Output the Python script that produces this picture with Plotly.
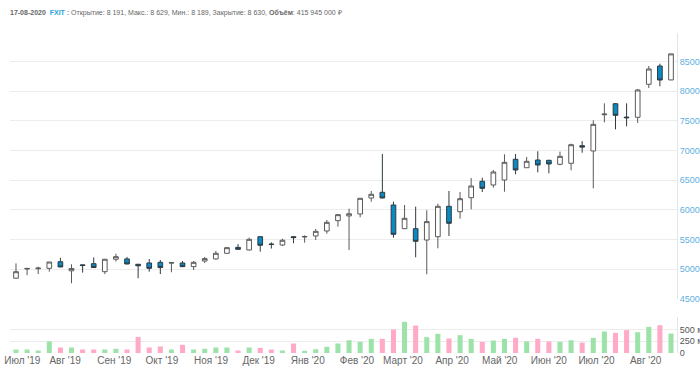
import plotly.graph_objects as go

dates = [
    "2019-07-01", "2019-07-08", "2019-07-15", "2019-07-22", "2019-07-29",
    "2019-08-05", "2019-08-12", "2019-08-19", "2019-08-26", "2019-09-02",
    "2019-09-09", "2019-09-16", "2019-09-23", "2019-09-30", "2019-10-07",
    "2019-10-14", "2019-10-21", "2019-10-28", "2019-11-04", "2019-11-11",
    "2019-11-18", "2019-11-25", "2019-12-02", "2019-12-09", "2019-12-16",
    "2019-12-23", "2019-12-30", "2020-01-06", "2020-01-13", "2020-01-20",
    "2020-01-27", "2020-02-03", "2020-02-10", "2020-02-17", "2020-02-24",
    "2020-03-02", "2020-03-09", "2020-03-16", "2020-03-23", "2020-03-30",
    "2020-04-06", "2020-04-13", "2020-04-20", "2020-04-27", "2020-05-04",
    "2020-05-11", "2020-05-18", "2020-05-25", "2020-06-01", "2020-06-08",
    "2020-06-15", "2020-06-22", "2020-06-29", "2020-07-06", "2020-07-13",
    "2020-07-20", "2020-07-27", "2020-08-03", "2020-08-10", "2020-08-17",
]

open_ = [4850, 5005, 5010, 5017, 5128, 4975, 5075, 5095, 4960, 5170,
         5175, 5085, 5107, 5118, 5105, 5107, 5045, 5140, 5175, 5270,
         5370, 5326, 5550, 5425, 5410, 5550, 5545, 5562, 5646, 5820,
         5900, 5932, 6202, 6298, 6084, 5685, 5685, 5494, 5550, 6062,
         5971, 6207, 6483, 6421, 6505, 6854, 6712, 6842, 6837, 6770,
         6787, 7083, 6994, 7605, 7790, 7565, 7562, 8118, 8426, 8191]
high = [5100, 5025, 5044, 5125, 5195, 5085, 5080, 5200, 5175, 5263,
        5210, 5090, 5174, 5157, 5115, 5140, 5140, 5208, 5310, 5370,
        5425, 5533, 5555, 5455, 5516, 5555, 5573, 5680, 5831, 5932,
        6022, 6200, 6320, 6943, 6140, 6084, 6056, 5995, 6106, 6320,
        6303, 6539, 6544, 6674, 6938, 6943, 6893, 6989, 6845, 6983,
        7117, 7160, 7511, 7797, 7800, 7797, 8039, 8426, 8465, 8630]
low = [4845, 4900, 4921, 4960, 5035, 4765, 4945, 5025, 4920, 5130,
       5085, 4850, 4960, 4920, 4950, 5040, 4990, 5105, 5165, 5265,
       5335, 5320, 5297, 5350, 5393, 5440, 5450, 5495, 5600, 5718,
       5326, 5877, 6140, 6195, 5533, 5680, 5203, 4916, 5354, 5562,
       5853, 6011, 6303, 6376, 6308, 6601, 6710, 6635, 6618, 6753,
       6669, 6965, 6365, 7477, 7359, 7409, 7466, 8055, 8084, 8189]
close = [4960, 5015, 5020, 5123, 5040, 5015, 5065, 5030, 5170, 5213,
         5090, 5060, 5017, 5030, 5112, 5045, 5118, 5180, 5270, 5365,
         5337, 5506, 5405, 5420, 5490, 5535, 5552, 5640, 5792, 5921,
         5937, 6197, 6264, 6202, 5590, 5860, 5472, 5804, 6062, 5776,
         6190, 6404, 6365, 6640, 6803, 6674, 6820, 6758, 6775, 6904,
         7100, 7060, 7443, 7615, 7595, 7555, 8022, 8376, 8190, 8630]
volume_mln = [75, 75, 53, 246, 118, 118, 75, 75, 75, 90,
              75, 345, 118, 139, 75, 175, 75, 90, 118, 118,
              53, 118, 110, 75, 53, 203, 47, 81, 132, 203,
              274, 239, 303, 303, 502, 667, 588, 338, 410, 310,
              381, 303, 239, 267, 303, 325, 246, 303, 246, 239,
              274, 224, 325, 460, 431, 488, 445, 559, 595, 416]

month_ticks = ["2019-07-05", "2019-08-01", "2019-09-01", "2019-10-01", "2019-11-01",
               "2019-12-01", "2020-01-01", "2020-02-01", "2020-03-01", "2020-04-01",
               "2020-05-01", "2020-06-01", "2020-07-01", "2020-08-01"]
month_labels = ["Июл '19", "Авг '19", "Сен '19", "Окт '19", "Ноя '19", "Дек '19",
                "Янв '20", "Фев '20", "Март '20", "Апр '20", "Май '20", "Июн '20",
                "Июл '20", "Авг '20"]

price_ticks = [4500, 5000, 5500, 6000, 6500, 7000, 7500, 8000, 8500]
vol_ticks = [0, 250, 500]
vol_labels = ["0", "250 млн", "500 млн"]

GREEN = "#9de3a9"
PINK = "#ffaac6"
vol_colors = [GREEN if c >= o else PINK for o, c in zip(open_, close)]

fig = go.Figure()
fig.add_trace(go.Candlestick(
    x=dates, open=open_, high=high, low=low, close=close,
    increasing=dict(line=dict(color="#5a5a5a", width=1), fillcolor="#ffffff"),
    decreasing=dict(line=dict(color="#2e3a40", width=1), fillcolor="#0a8ac2"),
    whiskerwidth=0, yaxis="y", xaxis="x", showlegend=False, hoverinfo="skip",
))
fig.add_trace(go.Bar(
    x=dates, y=volume_mln, marker=dict(color=vol_colors, line=dict(width=0)),
    width=[3.2 * 86400000] * len(dates), yaxis="y2", xaxis="x",
    showlegend=False, hoverinfo="skip",
))

header = ("<b>17-08-2020</b>  <b><span style='color:#2a9fd6'>FXIT :</span></b> "
          "Открытие: 8 191, Макс.: 8 629, Мин.: 8 189, Закрытие: 8 630, "
          "<b>Объём</b>: 415 945 000 ₽")

fig.update_layout(
    width=700, height=375,
    margin=dict(l=10, r=23, t=33, b=22, autoexpand=False),
    paper_bgcolor="#ffffff", plot_bgcolor="#ffffff",
    font=dict(family="Liberation Sans, Arial, sans-serif", size=10, color="#555555"),
    boxgap=0.4,
    xaxis=dict(
        type="date",
        range=["2019-06-27 05:17", "2020-08-20 18:50"],
        tickvals=month_ticks, ticktext=month_labels,
        showgrid=False, zeroline=False, showline=False,
        rangeslider=dict(visible=False),
        tickfont=dict(size=10, color="#666666"),
        ticks="", anchor="y2", automargin=False, ticklabeloverflow="allow",
    ),
    yaxis=dict(
        domain=[0.16875, 1.0], range=[4500, 8982], side="right",
        tickvals=price_ticks, showgrid=True, gridcolor="#ececec", gridwidth=1,
        zeroline=False, showline=True, linecolor="#dfe5ef", linewidth=1,
        tickfont=dict(size=9, color="#5fb0e0"), ticks="", automargin=False,
    ),
    yaxis2=dict(
        domain=[0.0, 0.1125], range=[0, 770], side="right",
        tickvals=vol_ticks, ticktext=vol_labels, showgrid=True,
        gridcolor="#ececec", zeroline=False, showline=True,
        linecolor="#dfe5ef", linewidth=1,
        tickfont=dict(size=9, color="#555555"), ticks="", automargin=False,
    ),
    annotations=[dict(
        text=header, xref="paper", yref="paper", x=-0.003, y=1.0,
        yshift=20, xanchor="left", yanchor="middle", showarrow=False,
        font=dict(size=7, color="#666666", family="Liberation Sans, Arial, sans-serif"),
    )],
)

fig.write_html(
    "out.html",
    config={"displayModeBar": False},
    post_script="document.body.style.margin='0px';document.body.style.overflow='hidden';",
)
